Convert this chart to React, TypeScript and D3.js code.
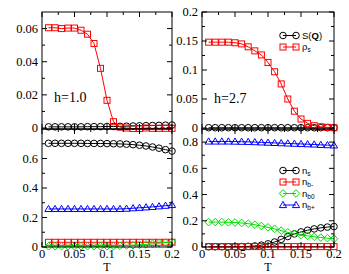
import React from 'react';
import { scaleLinear, line } from 'd3';

// temperature grid shared by every curve
const T = [0.01, 0.02, 0.03, 0.04, 0.05, 0.06, 0.07, 0.08, 0.09, 0.1, 0.11, 0.12, 0.13, 0.14, 0.15, 0.16, 0.17, 0.18, 0.19, 0.2];

// top panels: S(Q) and rho_s
const sqH1 = [0.0007, 0.0007, 0.0007, 0.0007, 0.0007, 0.0007, 0.0008, 0.0008, 0.0008, 0.0009, 0.0009, 0.001, 0.0011, 0.0012, 0.0013, 0.0014, 0.0015, 0.0016, 0.0017, 0.0018];
const rhoH1 = [0.0605, 0.0605, 0.06, 0.0603, 0.0603, 0.059, 0.0566, 0.051, 0.036, 0.0167, 0.0038, 0.0005, 0.0, -0.0003, -0.0003, 0.0, -0.0002, -0.0002, -0.0002, -0.0002];
const sqH27 = [0.0005, 0.0005, 0.0005, 0.0005, 0.0005, 0.0005, 0.0005, 0.0005, 0.0005, 0.0005, 0.0005, 0.0005, 0.0005, 0.0005, 0.0005, 0.0005, 0.0005, 0.0005, 0.0005, 0.0005];
const rhoH27 = [0.148, 0.148, 0.148, 0.148, 0.147, 0.145, 0.14, 0.133, 0.126, 0.113, 0.097, 0.076, 0.05, 0.029, 0.0155, 0.008, 0.004, 0.0022, 0.0012, 0.0005];

// bottom panels: densities
const nsH1 = [0.703, 0.703, 0.703, 0.703, 0.703, 0.703, 0.702, 0.702, 0.702, 0.701, 0.7, 0.699, 0.697, 0.694, 0.69, 0.685, 0.678, 0.67, 0.66, 0.65];
const nbmH1 = [0.032, 0.032, 0.032, 0.032, 0.032, 0.032, 0.032, 0.032, 0.032, 0.032, 0.032, 0.032, 0.032, 0.032, 0.032, 0.032, 0.032, 0.032, 0.032, 0.032];
const nb0H1 = [0.005, 0.005, 0.005, 0.005, 0.005, 0.005, 0.005, 0.005, 0.005, 0.005, 0.006, 0.008, 0.01, 0.012, 0.015, 0.018, 0.022, 0.026, 0.03, 0.034];
const nbpH1 = [0.258, 0.258, 0.258, 0.258, 0.258, 0.258, 0.258, 0.258, 0.258, 0.258, 0.258, 0.258, 0.26, 0.263, 0.266, 0.269, 0.272, 0.276, 0.28, 0.285];

const nsH27 = [0.002, 0.002, 0.002, 0.002, 0.002, 0.003, 0.005, 0.008, 0.014, 0.024, 0.038, 0.058, 0.08, 0.1, 0.115, 0.128, 0.138, 0.146, 0.152, 0.156];
const nbmH27 = [0.003, 0.003, 0.003, 0.003, 0.003, 0.003, 0.003, 0.003, 0.003, 0.003, 0.003, 0.003, 0.003, 0.003, 0.003, 0.003, 0.003, 0.003, 0.003, 0.003];
const nb0H27 = [0.19, 0.19, 0.19, 0.188, 0.187, 0.183, 0.178, 0.17, 0.16, 0.15, 0.138, 0.125, 0.112, 0.1, 0.092, 0.085, 0.078, 0.072, 0.067, 0.063];
const nbpH27 = [0.805, 0.805, 0.805, 0.805, 0.804, 0.803, 0.802, 0.8, 0.798, 0.796, 0.794, 0.792, 0.79, 0.788, 0.786, 0.784, 0.782, 0.779, 0.777, 0.775];

// ticks
const xMajor = [0, 0.05, 0.1, 0.15, 0.2];
const xMinor = [0.025, 0.075, 0.125, 0.175];
const yMajorTL = [0, 0.02, 0.04, 0.06];
const yMinorTL = [0.01, 0.03, 0.05];
const yMajorTR = [0, 0.05, 0.1, 0.15, 0.2];
const yMinorTR = [0.025, 0.075, 0.125, 0.175];
const yMajorBL = [0, 0.2, 0.4, 0.6];
const yMinorBL = [0.1, 0.3, 0.5, 0.7];
const yMajorBR = [0, 0.2, 0.4, 0.6, 0.8];
const yMinorBR = [0.1, 0.3, 0.5, 0.7];

const RED = '#ff0000';
const GREEN = '#00e000';
const BLUE = '#0000ff';
const BLACK = '#000000';

const SERIF = '"Liberation Serif", "Times New Roman", serif';
const SANS = '"Liberation Sans", Arial, sans-serif';

type Shape = 'circle' | 'square' | 'diamond' | 'triangle';

const Marker = ({ shape, color, x, y }: { shape: Shape, color: string, x: number, y: number }) => {
  const p = { fill: 'none', stroke: color, strokeWidth: 1 };
  if (shape === 'circle') return <circle cx={x} cy={y} r={3.3} {...p} />;
  if (shape === 'square') return <rect x={x - 3} y={y - 3} width={6} height={6} {...p} />;
  if (shape === 'diamond') return <path d={`M${x},${y - 3.8}L${x + 3.8},${y}L${x},${y + 3.8}L${x - 3.8},${y}Z`} {...p} />;
  return <path d={`M${x},${y - 3.6}L${x + 3.6},${y + 2.6}L${x - 3.6},${y + 2.6}Z`} {...p} />;
};

interface ISeries { values: number[], color: string, shape: Shape }
interface IPanel {
  x0: number, x1: number, y0: number, y1: number,
  yDomain: [number, number],
  yMajor: number[], yMinor: number[],
  xLabels: boolean,
  series: ISeries[]
}

const Panel = ({ p }: { p: IPanel }) => {
  const x = scaleLinear().domain([0, 0.2]).range([p.x0, p.x1]);
  const y = scaleLinear().domain(p.yDomain).range([p.y1, p.y0]);
  const path = line<number>().x((_, i) => x(T[i])).y(d => y(d));
  const fmt = (v: number) => String(v);
  const major = 5, minor = 3;
  return (
    <g>
      {p.series.map((s, k) => (
        <g key={k}>
          <path d={path(s.values) || ''} fill="none" stroke={s.color} strokeWidth={1} />
          {s.values.map((v, i) => <Marker key={i} shape={s.shape} color={s.color} x={x(T[i])} y={y(v)} />)}
        </g>
      ))}
      <rect x={p.x0} y={p.y0} width={p.x1 - p.x0} height={p.y1 - p.y0} fill="none" stroke="#000" strokeWidth={1} />
      {xMajor.concat(xMinor).map((t, i) => {
        const len = i < xMajor.length ? major : minor;
        const xx = x(t);
        return (
          <g key={'x' + i} stroke="#000">
            <line x1={xx} x2={xx} y1={p.y1} y2={p.y1 - len} />
            <line x1={xx} x2={xx} y1={p.y0} y2={p.y0 + len} />
          </g>
        );
      })}
      {p.yMajor.concat(p.yMinor).map((t, i) => {
        const len = i < p.yMajor.length ? major : minor;
        const yy = y(t);
        return (
          <g key={'y' + i} stroke="#000">
            <line x1={p.x0} x2={p.x0 + len} y1={yy} y2={yy} />
            <line x1={p.x1} x2={p.x1 - len} y1={yy} y2={yy} />
          </g>
        );
      })}
      {p.yMajor.map((t, i) => (
        <text key={'yl' + i} x={p.x0 - 4} y={y(t)} dy="0.34em" textAnchor="end" fontFamily={SERIF} fontSize={12.5}>{fmt(t)}</text>
      ))}
      {p.xLabels && xMajor.map((t, i) => (
        <text key={'xl' + i} x={x(t)} y={257.5} textAnchor="middle" fontFamily={SERIF} fontSize={12.5}>{fmt(t)}</text>
      ))}
      {p.xLabels && <text x={(p.x0 + p.x1) / 2} y={271.2} textAnchor="middle" fontFamily={SERIF} fontSize={12}>T</text>}
    </g>
  );
};

const LegendRow = ({ x, y, shape, color, children }: { x: number, y: number, shape: Shape, color: string, children: React.ReactNode }) => (
  <g>
    <line x1={x} x2={x + 13} y1={y} y2={y} stroke={color} strokeWidth={1} />
    <Marker shape={shape} color={color} x={x} y={y} />
    <Marker shape={shape} color={color} x={x + 13} y={y} />
    <text x={x + 19} y={y + 3.2} fontFamily={SANS} fontSize={9.5}>{children}</text>
  </g>
);

const App = () => {
  const panels: IPanel[] = [
    {
      x0: 42, x1: 172, y0: 12, y1: 129, yDomain: [-0.0006, 0.07], yMajor: yMajorTL, yMinor: yMinorTL, xLabels: false,
      series: [
        { values: sqH1, color: BLACK, shape: 'circle' },
        { values: rhoH1, color: RED, shape: 'square' },
      ]
    },
    {
      x0: 202, x1: 334, y0: 12, y1: 129, yDomain: [-0.0017, 0.2], yMajor: yMajorTR, yMinor: yMinorTR, xLabels: false,
      series: [
        { values: sqH27, color: BLACK, shape: 'circle' },
        { values: rhoH27, color: RED, shape: 'square' },
      ]
    },
    {
      x0: 42, x1: 172, y0: 129, y1: 247, yDomain: [0, 0.8], yMajor: yMajorBL, yMinor: yMinorBL, xLabels: true,
      series: [
        { values: nsH1, color: BLACK, shape: 'circle' },
        { values: nbmH1, color: RED, shape: 'square' },
        { values: nb0H1, color: GREEN, shape: 'diamond' },
        { values: nbpH1, color: BLUE, shape: 'triangle' },
      ]
    },
    {
      x0: 202, x1: 334, y0: 129, y1: 247, yDomain: [0, 0.9], yMajor: yMajorBR, yMinor: yMinorBR, xLabels: true,
      series: [
        { values: nsH27, color: BLACK, shape: 'circle' },
        { values: nbmH27, color: RED, shape: 'square' },
        { values: nb0H27, color: GREEN, shape: 'diamond' },
        { values: nbpH27, color: BLUE, shape: 'triangle' },
      ]
    },
  ];

  return (
    <svg width={349} height={274} style={{ position: 'absolute', left: 0, top: 0, background: '#fff' }}>
      {panels.map((p, i) => <Panel key={i} p={p} />)}
      <text x={54} y={102} fontFamily={SERIF} fontSize={14}>h=1.0</text>
      <text x={214} y={103} fontFamily={SERIF} fontSize={14}>h=2.7</text>

      <LegendRow x={283} y={35.5} shape="circle" color={BLACK}>S(<tspan fontWeight="bold">Q</tspan>)</LegendRow>
      <LegendRow x={283} y={47} shape="square" color={RED}>ρ<tspan fontSize={6.5} dy={2}>s</tspan></LegendRow>

      <LegendRow x={283} y={170.5} shape="circle" color={BLACK}>n<tspan fontSize={6.5} dy={2}>s</tspan></LegendRow>
      <LegendRow x={283} y={182} shape="square" color={RED}>n<tspan fontSize={6.5} dy={2}>b-</tspan></LegendRow>
      <LegendRow x={283} y={193.5} shape="diamond" color={GREEN}>n<tspan fontSize={6.5} dy={2}>b0</tspan></LegendRow>
      <LegendRow x={283} y={205} shape="triangle" color={BLUE}>n<tspan fontSize={6.5} dy={2}>b+</tspan></LegendRow>
    </svg>
  );
};

export default App;
